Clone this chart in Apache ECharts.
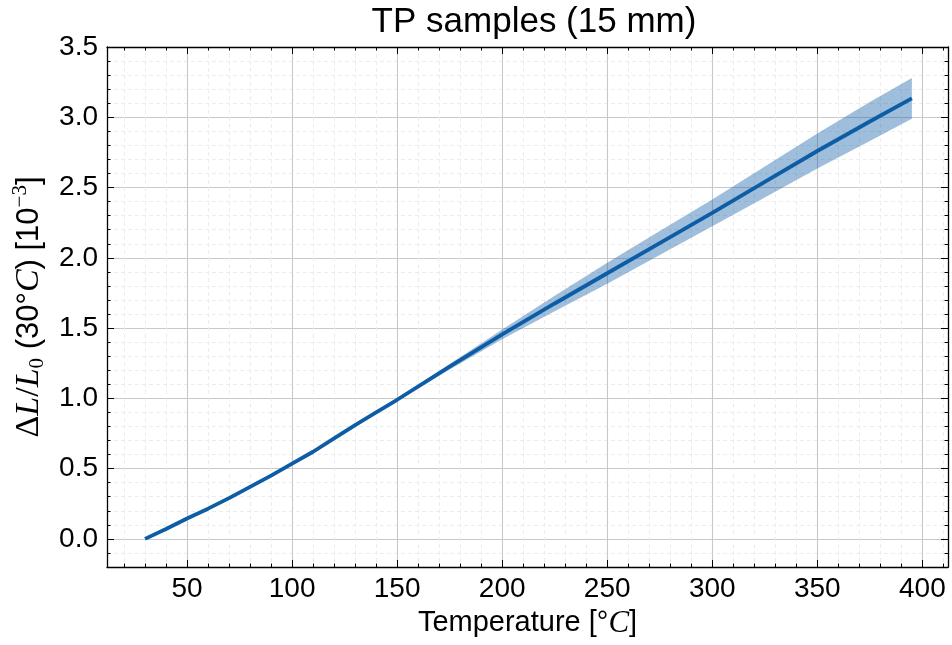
<!DOCTYPE html>
<html>
<head>
<meta charset="utf-8">
<script src="https://cdn.jsdelivr.net/npm/echarts@6/dist/echarts.min.js"></script>
<style>
html, body { margin: 0; padding: 0; background: #fff; }
#container { width: 952px; height: 645px; }
</style>
</head>
<body>
<div id="container"></div>
<script>
// values
var temperature = [30, 40, 50, 60, 70, 80, 90, 100, 110, 120, 130, 140, 150, 175, 200, 225, 250, 275, 300, 325, 350, 375, 395];
var expansion = [0, 0.07, 0.145, 0.215, 0.29, 0.37, 0.45, 0.535, 0.62, 0.715, 0.81, 0.9, 0.99, 1.225, 1.455, 1.675, 1.89, 2.105, 2.32, 2.54, 2.76, 2.97, 3.135];
var bandLow = [0, 0.07, 0.145, 0.215, 0.29, 0.37, 0.45, 0.535, 0.62, 0.715, 0.807, 0.894, 0.98, 1.205, 1.42, 1.62, 1.815, 2.02, 2.225, 2.43, 2.635, 2.832, 2.99];
var bandHigh = [0, 0.07, 0.145, 0.215, 0.29, 0.37, 0.45, 0.535, 0.62, 0.715, 0.813, 0.906, 1.0, 1.245, 1.49, 1.73, 1.965, 2.19, 2.415, 2.65, 2.885, 3.108, 3.28];

var xMajor = [50, 100, 150, 200, 250, 300, 350, 400];
var xMinor = [20, 30, 40, 60, 70, 80, 90, 110, 120, 130, 140, 160, 170, 180, 190, 210, 220, 230, 240, 260, 270, 280, 290, 310, 320, 330, 340, 360, 370, 380, 390, 410];
var yMajor = [0, 0.5, 1.0, 1.5, 2.0, 2.5, 3.0, 3.5];
var yMinor = [-0.1, 0.1, 0.2, 0.3, 0.4, 0.6, 0.7, 0.8, 0.9, 1.1, 1.2, 1.3, 1.4, 1.6, 1.7, 1.8, 1.9, 2.1, 2.2, 2.3, 2.4, 2.6, 2.7, 2.8, 2.9, 3.1, 3.2, 3.3, 3.4];

var X_MIN = 11.9, X_MAX = 412.2;
var Y_MIN = -0.2, Y_MAX = 3.5;

var sans = 'Liberation Sans';
var serif = 'Liberation Serif';
var blue = '#0C5DA5';

function pairs(xs, ys) {
    var out = [];
    for (var i = 0; i < xs.length; i++) out.push([xs[i], ys[i]]);
    return out;
}
var bandRows = [];
for (var i = 0; i < temperature.length; i++) bandRows.push([temperature[i], bandLow[i], bandHigh[i]]);

// whole band as one polygon, drawn on the first item only
function renderBand(params, api) {
    if (params.dataIndex !== 0) return null;
    var pts = [], j;
    for (j = 0; j < bandRows.length; j++) pts.push(api.coord([bandRows[j][0], bandRows[j][2]]));
    for (j = bandRows.length - 1; j >= 0; j--) pts.push(api.coord([bandRows[j][0], bandRows[j][1]]));
    return {
        type: 'polygon',
        shape: { points: pts },
        style: { fill: 'rgba(12,93,165,0.4)', stroke: null }
    };
}

function axisX(pos, ticks, len, labels, split) {
    return {
        type: 'value', min: X_MIN, max: X_MAX, position: pos,
        axisLine: { show: len > 4, onZero: false, lineStyle: { color: '#000', width: 1.3 } },
        axisTick: { show: true, inside: true, length: len, customValues: ticks, lineStyle: { color: '#000', width: 1 } },
        axisLabel: labels ? { show: true, customValues: ticks, margin: 8, color: '#000', fontSize: 28, fontFamily: sans } : { show: false },
        splitLine: split || { show: false }
    };
}
function axisY(pos, ticks, len, labels, split) {
    return {
        type: 'value', min: Y_MIN, max: Y_MAX, position: pos,
        axisLine: { show: len > 4, onZero: false, lineStyle: { color: '#000', width: 1.3 } },
        axisTick: { show: true, inside: true, length: len, customValues: ticks, lineStyle: { color: '#000', width: 1 } },
        axisLabel: labels ? {
            show: true, customValues: ticks, margin: 9, color: '#000', fontSize: 28, fontFamily: sans,
            showMaxLabel: true, showMinLabel: true,
            formatter: function (v) { return v.toFixed(1); }
        } : { show: false },
        splitLine: split || { show: false }
    };
}

var majorGrid = { show: true, lineStyle: { color: '#c8c8c8', width: 1.1 } };
var minorGrid = { show: true, lineStyle: { color: '#ececec', width: 1, type: [4, 3] } };

var xBottom = axisX('bottom', xMajor, 7, true, majorGrid);
xBottom.name = 'Temperature [°{i|C}]';
xBottom.nameLocation = 'middle';
xBottom.nameGap = 34;
xBottom.nameTextStyle = {
    color: '#000', fontSize: 29, fontFamily: sans,
    rich: { i: { fontFamily: serif, fontStyle: 'italic', fontSize: 31, color: '#000' } }
};

var yLeft = axisY('left', yMajor, 7, true, majorGrid);
yLeft.name = '{m|Δ}{i|L}{m|/}{i|L}{s|0}{d| (30°}{i|C}{d|) [10}{p|−3}{d|]}';
yLeft.nameLocation = 'middle';
yLeft.nameRotate = 90;
yLeft.nameGap = 56;
yLeft.nameTextStyle = {
    color: '#000', fontSize: 31, fontFamily: sans,
    rich: {
        d: { fontFamily: sans, fontSize: 31, color: '#000', lineHeight: 38 },
        m: { fontFamily: serif, fontSize: 34, color: '#000', lineHeight: 38 },
        i: { fontFamily: serif, fontStyle: 'italic', fontSize: 34, color: '#000', lineHeight: 38 },
        s: { fontFamily: serif, fontSize: 21, color: '#000', verticalAlign: 'bottom', lineHeight: 38 },
        p: { fontFamily: serif, fontSize: 21, color: '#000', verticalAlign: 'top', lineHeight: 38 }
    }
};

var myChart = echarts.init(document.getElementById('container'));
var option = {
    backgroundColor: '#fff',
    animation: false,
    title: {
        text: 'TP samples (15 mm)',
        left: 529, top: 0, textAlign: 'center',
        textStyle: { color: '#000', fontSize: 35, fontWeight: 'normal', fontFamily: sans }
    },
    grid: { left: 107, right: 4, top: 47, bottom: 78, containLabel: false },
    xAxis: [
        xBottom,
        axisX('top', xMajor, 7, false),
        axisX('bottom', xMinor, 3.5, false, minorGrid),
        axisX('top', xMinor, 3.5, false)
    ],
    yAxis: [
        yLeft,
        axisY('right', yMajor, 7, false),
        axisY('left', yMinor, 3.5, false, minorGrid),
        axisY('right', yMinor, 3.5, false)
    ],
    series: [
        {
            name: 'band', type: 'custom', silent: true, z: 3,
            renderItem: renderBand,
            encode: { x: 0, y: [1, 2] },
            data: bandRows
        },
        {
            name: 'mean', type: 'line', symbol: 'none', z: 5,
            data: pairs(temperature, expansion),
            lineStyle: { color: blue, width: 3.8 }
        }
    ]
};
myChart.setOption(option);
</script>
</body>
</html>
